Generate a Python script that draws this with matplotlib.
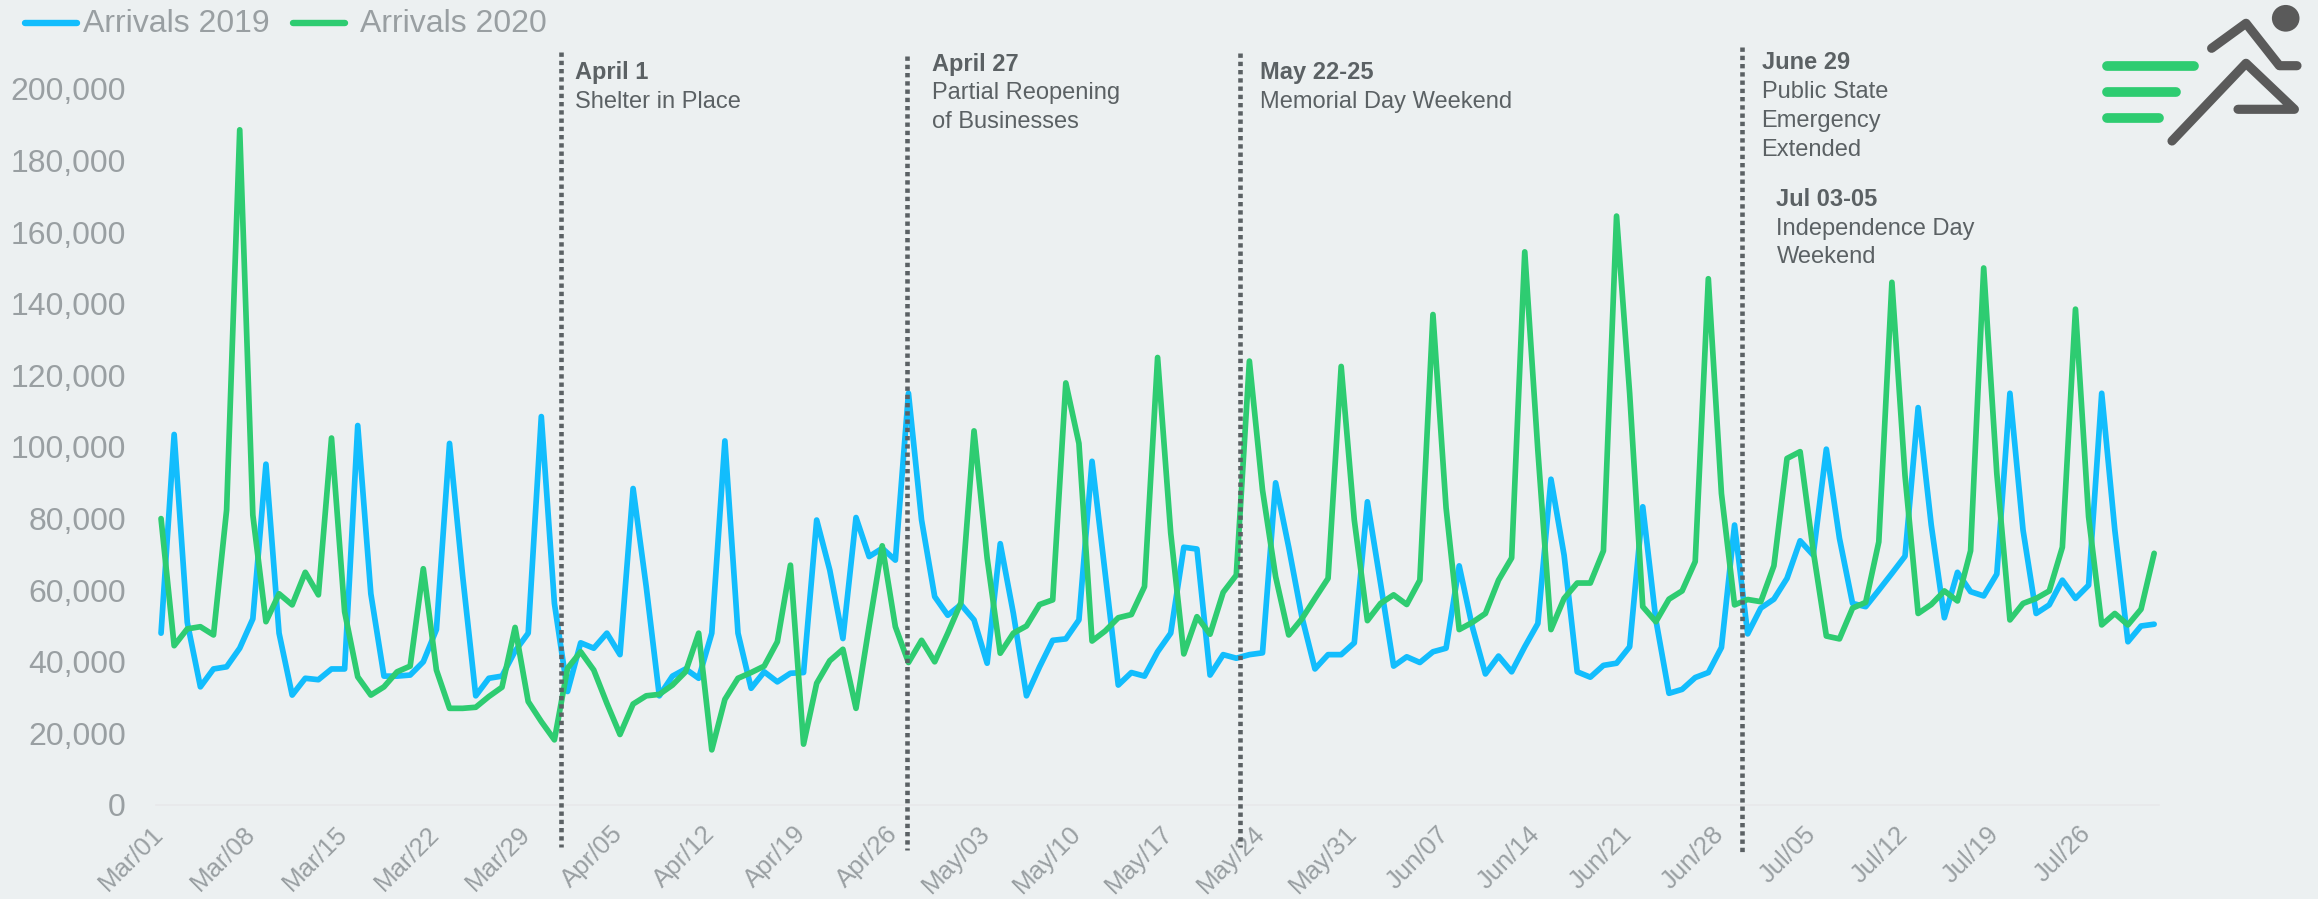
import matplotlib
matplotlib.use("Agg")
import matplotlib.pyplot as plt
import numpy as np
import pandas as pd
from matplotlib.patches import Ellipse
from matplotlib.transforms import ScaledTranslation

plt.rcParams['font.family'] = ['Liberation Sans', 'DejaVu Sans']

W, H = 2318, 899
BG = '#ECF0F1'
BLUE = '#12BDFD'
GREEN = '#2ECC71'
DARK = '#5B6164'
TICK = '#999FA2'
LOGO = '#5A5A5A'

dates = pd.date_range('2020-03-01', '2020-07-31')

# values, in thousands
arrivals_2019 = [
    48, 103.5, 51, 33, 38, 38.6, 43.8, 52, 95.2, 48, 30.7, 35.4, 35, 38, 38, 106,
    59, 36, 36, 36.3, 40, 49, 101, 64, 30.5, 35.4, 36, 43, 48, 108.5, 56.3,
    31.7, 45.3, 43.8, 48, 42, 88.4, 61, 30.5, 36, 38, 35.4, 48, 101.7, 48, 32.6, 37.2, 34.4, 36.8, 37,
    79.6, 65.6, 46.5, 80.3, 69.4, 71.7, 68.4, 115, 79.6, 58.2, 53,
    56, 51.7, 39.6, 73, 53.5, 30.5, 38.6, 46, 46.4, 51.7, 96, 64.7, 33.5, 37, 36, 42.8, 48, 72, 71.5, 36.3, 42,
    41, 42, 42.5, 90, 72, 52.6, 38, 42, 42, 45.3, 84.7, 62, 38.8, 41.4, 39.8, 42.8, 43.8, 66.8, 49.8, 36.6,
    41.6, 37.2, 44.2, 50.7, 91, 69.8, 37.2, 35.7, 39, 39.6, 44.2, 83.3, 51.7, 31.2, 32.3, 35.6, 37, 44, 78.2, 47.8, 55, 57.5,
    63.3, 73.8, 69.8, 99.4, 74.5, 56.3, 55.4, 60, 64.7, 69.5, 111, 78.2, 52.3, 65, 59.6, 58.4, 64.5, 115, 76.8, 53.5, 55.9, 62.8, 57.7, 61.4,
    115, 76.8, 45.6, 50, 50.5,
]
arrivals_2020 = [
    80, 44.5, 49.2, 49.8, 47.5, 82.4, 188.6, 81, 51.2, 59, 55.9, 65, 58.7, 102.5, 54, 35.8,
    30.7, 33, 37.2, 38.8, 66, 37.7, 27, 27, 27.3, 30.3, 32.9, 49.6, 28.9, 23.3, 18.2,
    38.2, 42.8, 37.7, 28.4, 19.7, 28.2, 30.5, 30.9, 33.5, 37.2, 48, 15.4, 29.5, 35.4, 37, 38.8, 45.6, 67, 17,
    34, 40.3, 43.5, 27, 50, 72.4, 49.8, 39.8, 46, 40, 48,
    56.5, 104.5, 69, 42.4, 48, 50, 56, 57.3, 117.9, 101, 45.8, 48.6, 52.3, 53.2, 61, 125, 76, 42.2, 52.6, 47.7, 59.4,
    64.2, 124, 88, 63.8, 47.5, 52, 57.7, 63.3, 122.5, 79.6, 51.5, 56.3, 58.7, 56, 62.8, 137, 83, 49, 51, 53.5,
    62.8, 69, 154.5, 99, 49, 57.7, 62, 62, 71, 164.5, 115, 55.4, 51.2, 57.5, 59.8, 68, 147, 87, 55.9, 57.4, 56.8, 66.8,
    96.8, 98.7, 71, 47.2, 46.4, 55, 56.6, 73.5, 146, 92, 53.5, 56, 59.8, 57, 71, 150, 92.6, 51.7, 56.3, 57.7, 59.8, 72,
    138.5, 80.5, 50.3, 53.5, 50.3, 54.7, 70.3,
]
series_names = ['Arrivals 2019', 'Arrivals 2020']
y_ticks = np.arange(0, 200001, 20000)
x_tick_every = 7

# day position of the dotted event lines
event_days = [30.5, 56.9, 82.3, 120.6]
event_tops = [52, 56, 53, 47]
event_bottoms = [847, 850, 847, 855]

fig = plt.figure(figsize=(W / 100, H / 100), dpi=100, facecolor=BG)

# main chart, placed so that day 0 falls at px 161 and y=0 at px 805
left, right, bottom_px, top_px = 155.8, 2159.4, 805, 53
ax = fig.add_axes([left / W, 1 - bottom_px / H, (right - left) / W, (bottom_px - top_px) / H])
ax.set_facecolor('none')

x = np.arange(len(dates))
ax.plot(x, np.array(arrivals_2019) * 1000, color=BLUE, lw=4.1, solid_joinstyle='round', solid_capstyle='round', zorder=3)
ax.plot(x, np.array(arrivals_2020) * 1000, color=GREEN, lw=4.1, solid_joinstyle='round', solid_capstyle='round', zorder=4)

ax.set_xlim(-0.4, len(dates) - 1 + 0.4)
ax.set_ylim(0, (bottom_px - top_px) / 3.58 * 1000)

ax.set_yticks(y_ticks)
ax.set_yticklabels(['{:,}'.format(v) for v in y_ticks], fontsize=23, color=TICK)
tick_pos = x[::x_tick_every]
ax.set_xticks(tick_pos)
ax.set_xticklabels([dates[i].strftime('%b/%d') for i in tick_pos], fontsize=18.5, color=TICK,
                   rotation=45, ha='right', rotation_mode='anchor')
ax.tick_params(axis='both', length=0)
ax.tick_params(axis='y', pad=21.5)
ax.tick_params(axis='x', pad=12)
shift = ScaledTranslation(-7 / 72, 0, fig.dpi_scale_trans)
for lab in ax.get_xticklabels():
    lab.set_transform(lab.get_transform() + shift)

for side in ['top', 'left', 'right']:
    ax.spines[side].set_visible(False)
ax.spines['bottom'].set_color('#E8E8EA')
ax.spines['bottom'].set_linewidth(1.2)

# overlay in pixel coordinates for the annotations, legend and logo
ov = fig.add_axes([0, 0, 1, 1])
ov.set_xlim(0, W)
ov.set_ylim(H, 0)
ov.axis('off')
ov.patch.set_alpha(0)

for day, t, b in zip(event_days, event_tops, event_bottoms):
    px = 161 + day * 13.11
    ov.plot([px, px], [t, b], color=DARK, lw=3.3, linestyle=(0, (0.95, 0.85)), dash_capstyle='butt', zorder=5)

notes = [
    (575, [(79, 'April 1', 'bold'), (108, 'Shelter in Place', 'normal')]),
    (931.5, [(71, 'April 27', 'bold'), (99, 'Partial Reopening', 'normal'), (128, 'of Businesses', 'normal')]),
    (1260, [(79, 'May 22-25', 'bold'), (108, 'Memorial Day Weekend', 'normal')]),
    (1761.5, [(69, 'June 29', 'bold'), (98, 'Public State', 'normal'), (127, 'Emergency', 'normal'), (156, 'Extended', 'normal')]),
    (1776.5, [(206, 'Jul 03-05', 'bold'), (235, 'Independence Day', 'normal'), (263, 'Weekend', 'normal')]),
]
for nx, rows in notes:
    for ny, txt, weight in rows:
        ov.text(nx, ny, txt, fontsize=17, color=DARK, fontweight=weight, va='baseline', ha='left')

# legend
for (x0, x1, tx), name, col in zip([(25, 77, 82.6), (293, 345, 360)], series_names, [BLUE, GREEN]):
    ov.plot([x0, x1], [22.7, 22.7], color=col, lw=4.6, solid_capstyle='round')
    ov.text(tx, 32, name, fontsize=23, color=TICK, va='baseline', ha='left')

# logo
for x1, yy in [(2194, 66), (2176, 92), (2159, 118)]:
    ov.plot([2107, x1], [yy, yy], color=GREEN, lw=7, solid_capstyle='round')
ov.add_patch(Ellipse((2285.7, 18.3), 27.6, 26.7, color=LOGO, lw=0))
ov.plot([2211.6, 2246, 2279.4, 2297], [48.3, 23.3, 65.7, 65.7], color=LOGO, lw=6.6,
        solid_capstyle='round', solid_joinstyle='round')
ov.plot([2172, 2246, 2294.4, 2238], [141, 63.3, 109.3, 109.3], color=LOGO, lw=6.6,
        solid_capstyle='round', solid_joinstyle='round')

fig.savefig('out.png', dpi=100, facecolor=BG)
